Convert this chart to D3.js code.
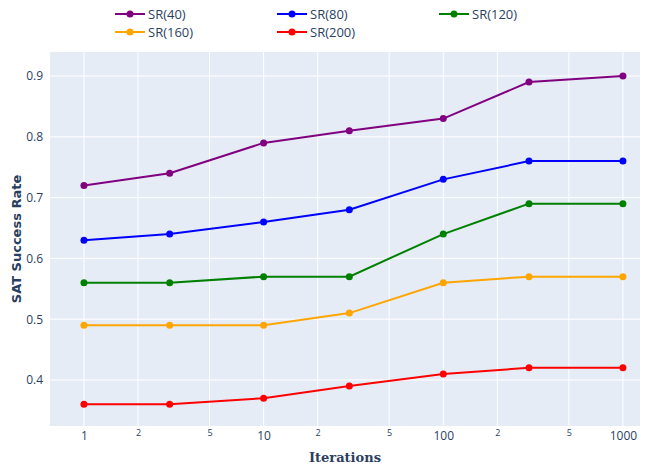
<!DOCTYPE html>
<html><head><meta charset="utf-8">
<script src="https://cdn.jsdelivr.net/npm/d3@7"></script>
<style>body{margin:0;background:#fff}svg{display:block}</style>
</head><body>
<svg id="c" width="647" height="468"></svg>
<script>
const iterations = [1, 3, 10, 30, 100, 300, 1000];
const seriesNames = ["SR(40)", "SR(80)", "SR(120)", "SR(160)", "SR(200)"];
const seriesColors = ["purple", "blue", "green", "orange", "red"];
const sr40  = [0.72, 0.74, 0.79, 0.81, 0.83, 0.89, 0.90];
const sr80  = [0.63, 0.64, 0.66, 0.68, 0.73, 0.76, 0.76];
const sr120 = [0.56, 0.56, 0.57, 0.57, 0.64, 0.69, 0.69];
const sr160 = [0.49, 0.49, 0.49, 0.51, 0.56, 0.57, 0.57];
const sr200 = [0.36, 0.36, 0.37, 0.39, 0.41, 0.42, 0.42];
const seriesValues = [sr40, sr80, sr120, sr160, sr200];
const yTicks = [0.4, 0.5, 0.6, 0.7, 0.8, 0.9];
const xMajorTicks = [1, 10, 100, 1000];
const xMinorTicks = [2, 5, 20, 50, 200, 500];

const svg = d3.select("#c");
const L = 50, R = 640, T = 52, B = 426;
const font = "'Open Sans', sans-serif";
const tc = "#2a3f5f";

const x = d3.scaleLog().domain([Math.pow(10, -0.189), Math.pow(10, 3.095)]).range([L, R]);
const y = d3.scaleLinear().domain([0.3243, 0.9395]).range([B, T]);

svg.append("rect").attr("x", L).attr("y", T).attr("width", R - L).attr("height", B - T).attr("fill", "#E5ECF6");

const g = svg.append("g");
[...xMajorTicks, ...xMinorTicks].forEach(v => {
  g.append("line").attr("x1", x(v)).attr("x2", x(v)).attr("y1", T).attr("y2", B)
    .attr("stroke", "#fff").attr("stroke-width", 1);
});
yTicks.forEach(v => {
  g.append("line").attr("x1", L).attr("x2", R).attr("y1", y(v)).attr("y2", y(v))
    .attr("stroke", "#fff").attr("stroke-width", 1);
});

const xAxisMajor = d3.axisBottom(x).tickValues(xMajorTicks).tickFormat(d3.format("d")).tickSize(0).tickPadding(0);
const ax = svg.append("g").attr("transform", `translate(0,${B})`).call(xAxisMajor);
ax.select(".domain").remove();
ax.selectAll("text").attr("font-family", font).attr("font-size", 12).attr("fill", tc).attr("dy", "0").attr("y", 14);
const xAxisMinor = d3.axisBottom(x).tickValues(xMinorTicks).tickFormat(d => String(d).charAt(0)).tickSize(0).tickPadding(0);
const axm = svg.append("g").attr("transform", `translate(0,${B})`).call(xAxisMinor);
axm.select(".domain").remove();
axm.selectAll("text").attr("font-family", font).attr("font-size", 9).attr("fill", tc).attr("dy", "0").attr("y", 10);

const yAxis = d3.axisLeft(y).tickValues(yTicks).tickFormat(d3.format(".1f")).tickSize(0).tickPadding(7);
const ay = svg.append("g").attr("transform", `translate(${L},0)`).call(yAxis);
ay.select(".domain").remove();
ay.selectAll("text").attr("font-family", font).attr("font-size", 12).attr("fill", tc);

svg.append("text").attr("x", (L + R) / 2).attr("y", 462).attr("text-anchor", "middle")
  .attr("font-family", "'DejaVu Serif', serif").attr("font-weight", "bold").attr("font-size", 13).attr("fill", tc)
  .text("Iterations");
svg.append("text").attr("transform", `translate(21,${(T + B) / 2}) rotate(-90)`).attr("text-anchor", "middle")
  .attr("font-family", "'DejaVu Sans', sans-serif").attr("font-weight", "bold").attr("font-size", 13).attr("fill", tc)
  .text("SAT Success Rate");

const line = d3.line().x((d, i) => x(iterations[i])).y(d => y(d));
seriesValues.forEach((vals, s) => {
  const sg = svg.append("g");
  sg.append("path").attr("d", line(vals)).attr("fill", "none").attr("stroke", seriesColors[s]).attr("stroke-width", 2);
  sg.selectAll("circle").data(vals).join("circle")
    .attr("cx", (d, i) => x(iterations[i])).attr("cy", d => y(d)).attr("r", 3.5).attr("fill", seriesColors[s]);
});

const legX = [115, 277, 439], legY = [14, 32];
seriesNames.forEach((n, i) => {
  const col = i % 3, row = Math.floor(i / 3);
  const lg = svg.append("g").attr("transform", `translate(${legX[col]},${legY[row]})`);
  lg.append("line").attr("x1", 0).attr("x2", 30).attr("y1", 0).attr("y2", 0).attr("stroke", seriesColors[i]).attr("stroke-width", 2);
  lg.append("circle").attr("cx", 15).attr("cy", 0).attr("r", 3.5).attr("fill", seriesColors[i]);
  lg.append("text").attr("x", 33).attr("y", 0).attr("dy", "0.35em").attr("font-family", font).attr("font-size", 13).attr("fill", tc).text(n);
});
</script>
</body></html>
